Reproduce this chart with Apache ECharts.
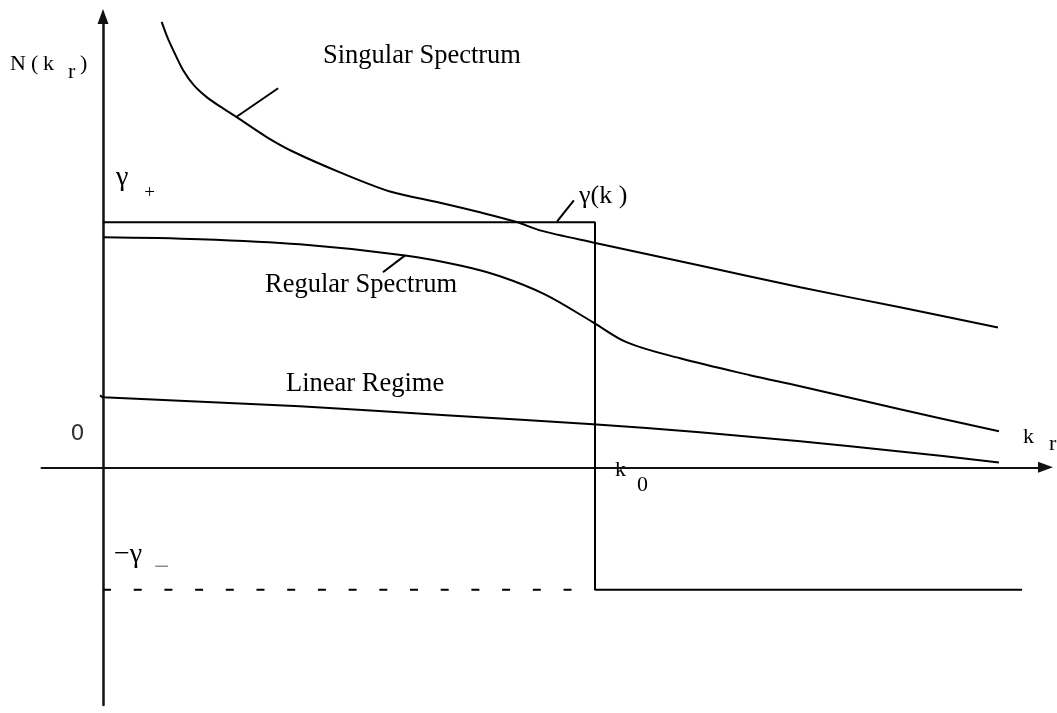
<!DOCTYPE html>
<html>
<head>
<meta charset="utf-8">
<script src="https://cdn.jsdelivr.net/npm/echarts@6/dist/echarts.min.js"></script>
<style>
  html, body { margin: 0; padding: 0; background: #fff; }
  #chart { width: 1057px; height: 713px; }
</style>
</head>
<body>
<div id="chart"></div>
<script>
// ---- data (arbitrary schematic units: k_r horizontally, N(k_r) vertically) ----
const singularK   = [1.193, 1.301, 1.429, 1.632, 1.850, 2.108, 2.378, 2.717, 3.327, 3.868, 4.817, 5.833, 6.85, 7.66, 8.41, 8.88, 9.96, 12.13, 14.17, 16.20, 18.19];
const singularN   = [18.18, 17.59, 17.02, 16.20, 15.59, 15.11, 14.73, 14.29, 13.48, 12.88, 12.04, 11.26, 10.80, 10.41, 10.01, 9.67, 9.18, 8.24, 7.35, 6.53, 5.71];

const regularK    = [0, 1.97, 4.0, 6.14, 7.26, 8.07, 8.98, 9.96, 10.65, 11.73, 13.15, 14.17, 16.20, 18.21];
const regularN    = [9.39, 9.31, 9.10, 8.65, 8.24, 7.80, 7.06, 5.92, 5.10, 4.45, 3.76, 3.31, 2.37, 1.47];

const linearK     = [-0.06, 0, 4.0, 7.05, 9.96, 12.13, 14.17, 16.20, 18.21];
const linearN     = [2.94, 2.86, 2.49, 2.12, 1.76, 1.43, 1.06, 0.65, 0.20];

const gammaPlus   = 10;     // γ+
const gammaMinus  = -5;     // −γ−
const k0          = 10;     // k_0
const kEnd        = 18.68;  // end of the lower step
const dashEnd     = 9.6;    // end of dashed −γ− line

// leader lines (label pointers)
const singularLeader = [[2.70, 14.29], [3.56, 15.47]];
const gammaLeader    = [[9.23, 10.04], [9.57, 10.90]];
const regularLeader  = [[6.14, 8.65], [5.69, 7.96]];

const zip = (a, b) => a.map((v, i) => [v, b[i]]);

const black = '#000';
const serif = 'Liberation Serif';

function txt(text, x, y, size, opts) {
  opts = opts || {};
  return {
    type: 'text', x: x, y: y, silent: true,
    style: {
      text: text,
      font: (opts.weight || 'normal') + ' ' + size + 'px "' + (opts.family || serif) + '"',
      fill: opts.color || black,
      textAlign: opts.align || 'left',
      textVerticalAlign: 'middle'
    }
  };
}

function lineSeries(data, extra) {
  return Object.assign({
    type: 'line', data: data, symbol: 'none', silent: true,
    lineStyle: { color: black, width: 2 }, z: 3
  }, extra || {});
}

const chart = echarts.init(document.getElementById('chart'), null, { renderer: 'canvas' });

chart.setOption({
  animation: false,
  backgroundColor: '#fff',
  grid: { left: 41.5, top: 16.5, width: 1004, height: 688.5, containLabel: false },
  xAxis: {
    type: 'value', min: -1.25, max: 19.156,
    axisLine: { show: true, onZero: true, symbol: ['none', 'triangle'], symbolSize: [11, 15],
                lineStyle: { color: '#111', width: 2 } },
    axisTick: { show: false }, axisLabel: { show: false }, splitLine: { show: false }
  },
  yAxis: {
    type: 'value', min: -9.7, max: 18.4,
    axisLine: { show: true, onZero: true, symbol: ['none', 'triangle'], symbolSize: [11, 15],
                lineStyle: { color: '#111', width: 2.5 } },
    axisTick: { show: false }, axisLabel: { show: false }, splitLine: { show: false }
  },
  series: [
    lineSeries(zip(singularK, singularN), { smooth: 0.3 }),
    lineSeries(zip(regularK, regularN), { smooth: 0.35 }),
    lineSeries(zip(linearK, linearN), { smooth: 0.3 }),
    lineSeries([[0, gammaPlus], [k0, gammaPlus], [k0, gammaMinus], [kEnd, gammaMinus]],
               { lineStyle: { color: black, width: 2 } }),
    lineSeries([[0, gammaMinus], [dashEnd, gammaMinus]],
               { lineStyle: { color: black, width: 2, type: [8, 22.7] } }),
    lineSeries(singularLeader),
    lineSeries(gammaLeader),
    lineSeries(regularLeader)
  ],
  graphic: [
    txt('Singular Spectrum', 323, 56, 26.5),
    txt('Regular Spectrum', 265, 285, 26.5),
    txt('Linear Regime', 286, 384, 26.5),
    txt('γ(k )', 579, 196, 26),
    txt('γ', 116, 178, 28),
    txt('+', 149.5, 193.5, 19, { align: 'center' }),
    txt('−γ', 114, 555, 28),
    txt('−', 161.5, 567.5, 27, { align: 'center', color: '#808080' }),
    txt('0', 77.5, 434, 22, { align: 'center', family: 'DejaVu Sans', color: '#333' }),
    txt('N', 10, 64.5, 22),
    txt('(', 31, 64.5, 22),
    txt('k', 43, 64.5, 22),
    txt('r', 68, 72.5, 22),
    txt(')', 80, 64.5, 22),
    txt('k', 1023, 437.5, 22),
    txt('r', 1049, 444.5, 22),
    txt('k', 615, 470, 22),
    txt('0', 637, 485, 22)
  ]
});
</script>
</body>
</html>
